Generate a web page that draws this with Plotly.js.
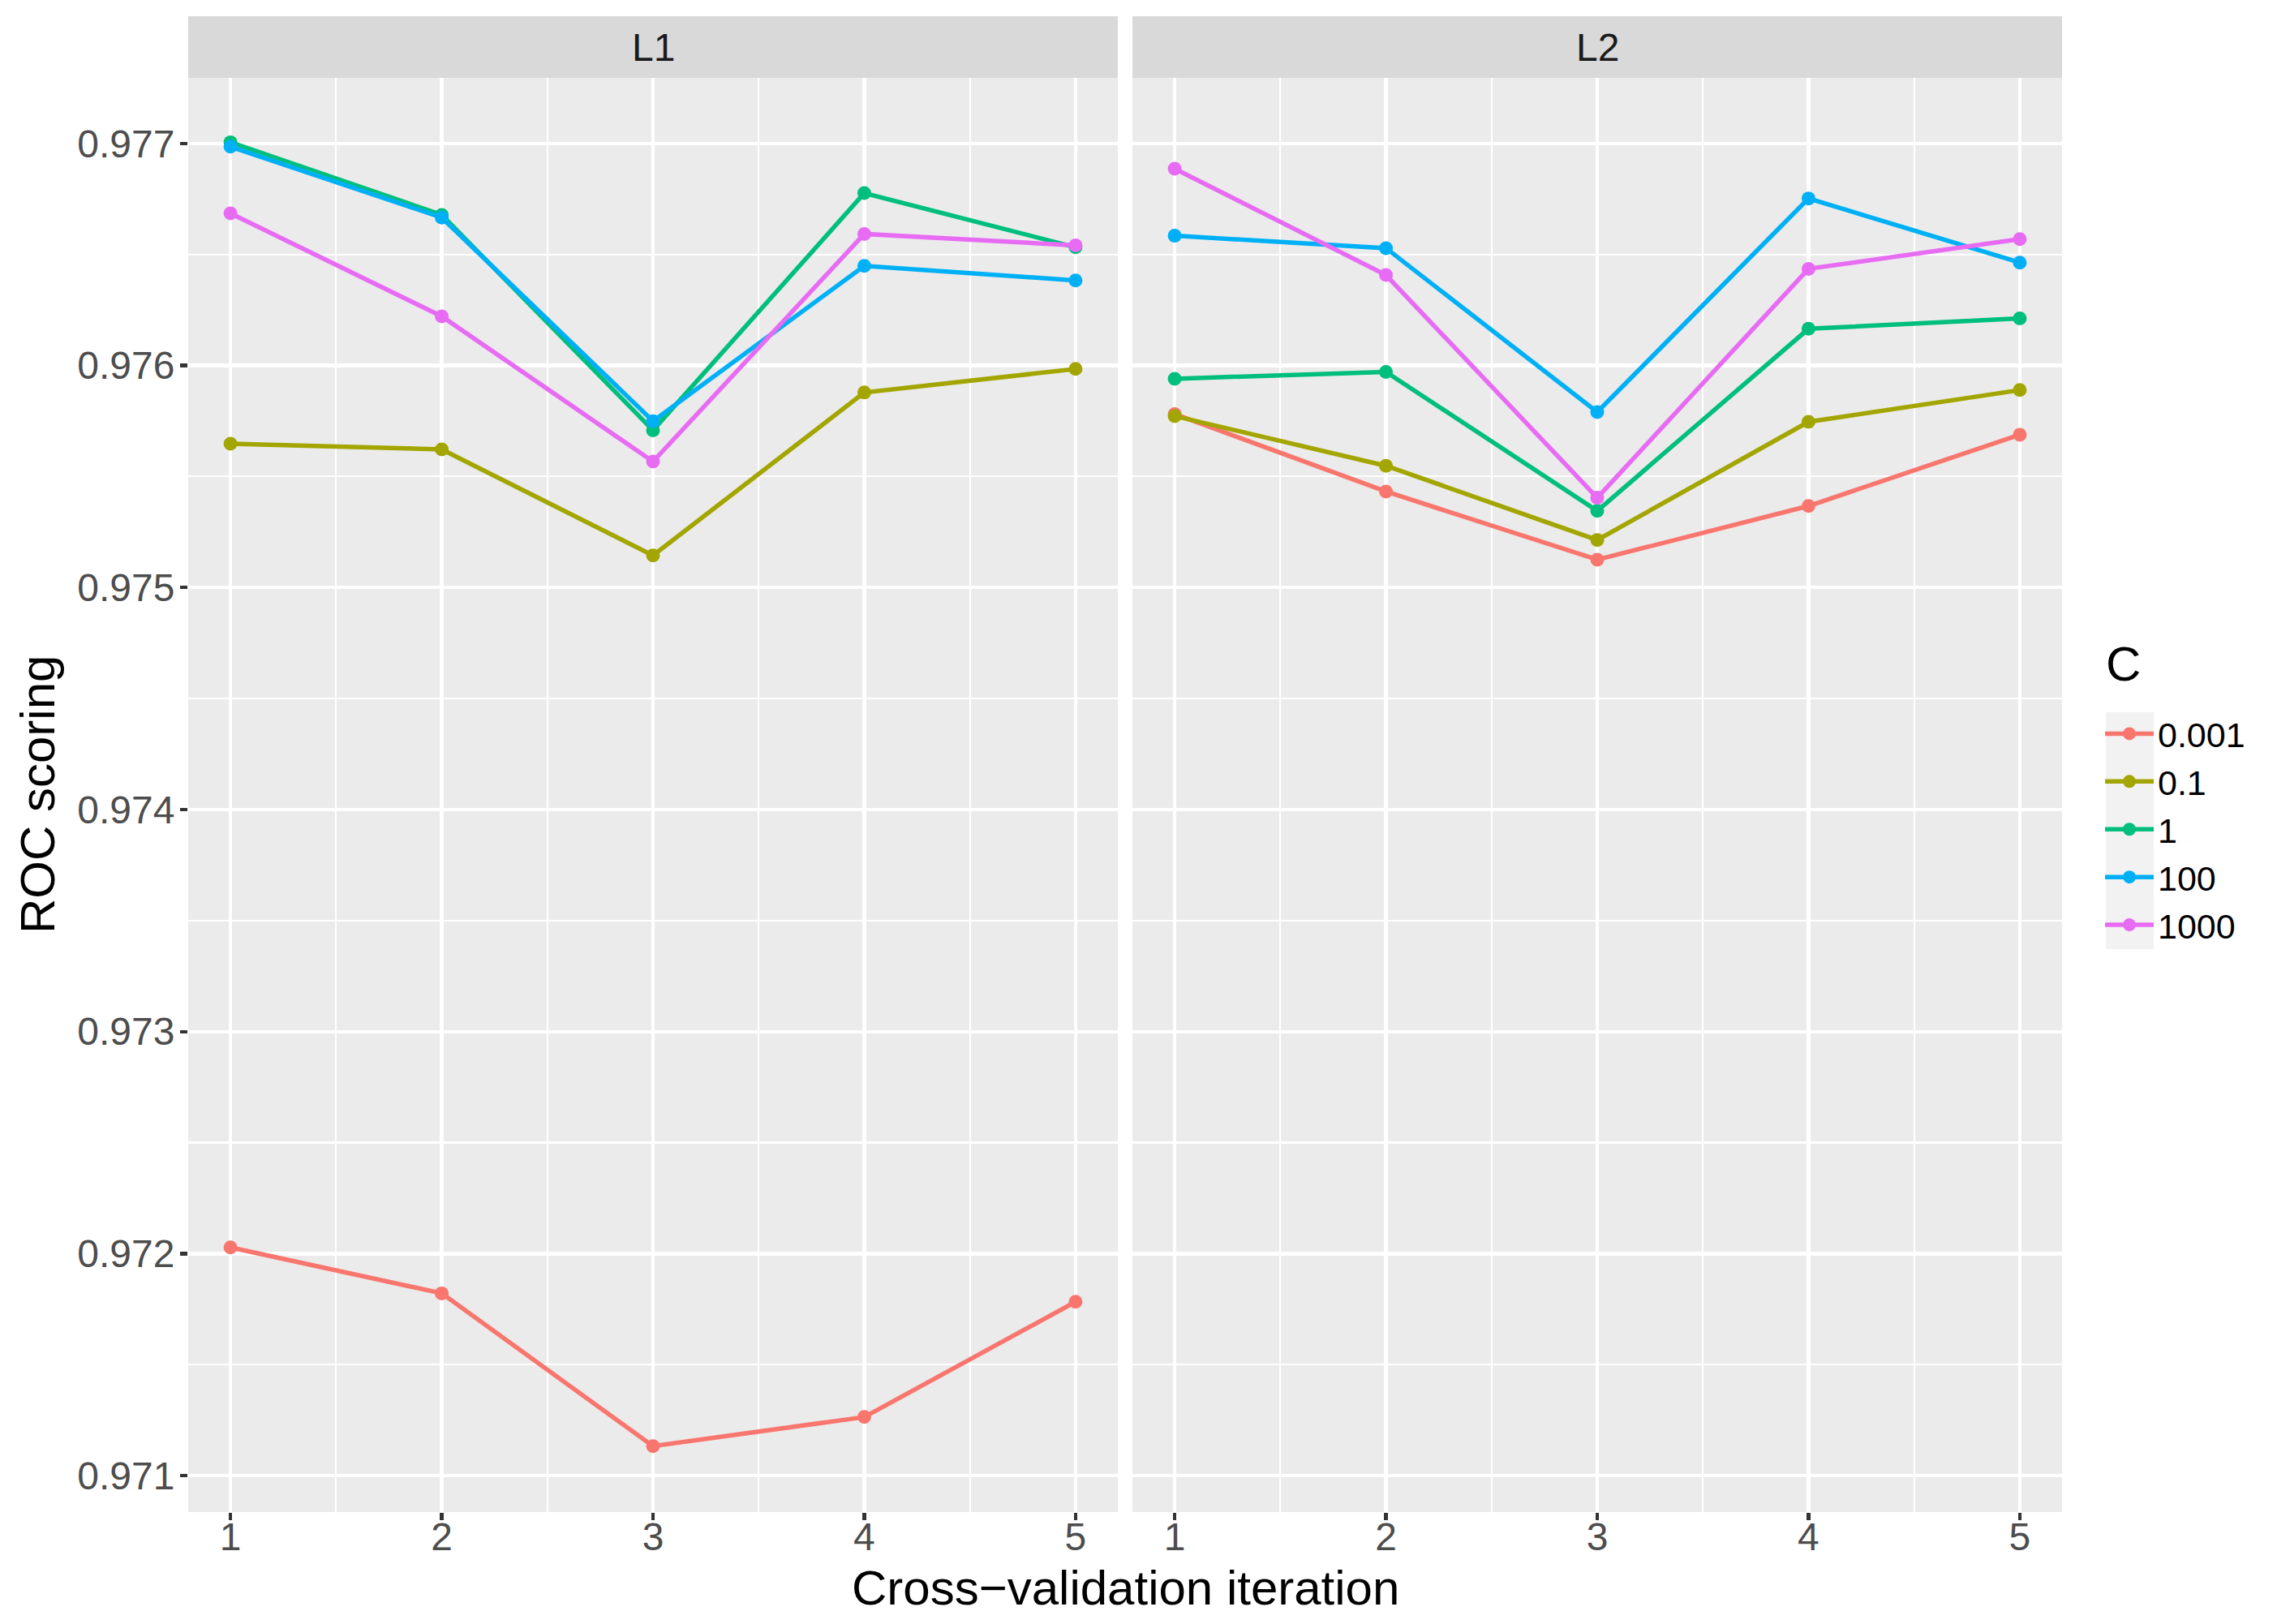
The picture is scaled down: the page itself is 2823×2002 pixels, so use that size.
<!DOCTYPE html>
<html>
<head>
<meta charset="utf-8">
<script src="https://cdn.plot.ly/plotly-3.0.1.min.js"></script>
<style>html,body{margin:0;padding:0;background:#fff;}#chart{width:2823px;height:2002px;}</style>
</head>
<body>
<div id="chart"></div>
<script>
// ---- data ----
const iterations = [1, 2, 3, 4, 5];
const cLevels = ["0.001", "0.1", "1", "100", "1000"];
const penalties = ["L1", "L2"];
const colors = ["#F8766D", "#A3A500", "#00BF7D", "#00B0F6", "#E76BF3"];

// L1 penalty scores per C
const l1_c0001 = [0.972028, 0.971821, 0.971133, 0.971264, 0.971783];
const l1_c01   = [0.975647, 0.975622, 0.975144, 0.975878, 0.975984];
const l1_c1    = [0.977005, 0.976678, 0.975708, 0.976776, 0.976532];
const l1_c100  = [0.976985, 0.976666, 0.975749, 0.976448, 0.976383];
const l1_c1000 = [0.976685, 0.976221, 0.975567, 0.976592, 0.976541];

// L2 penalty scores per C
const l2_c0001 = [0.975781, 0.975432, 0.975125, 0.975367, 0.975688];
const l2_c01   = [0.975772, 0.975548, 0.975214, 0.975746, 0.975889];
const l2_c1    = [0.975940, 0.975971, 0.975345, 0.976165, 0.976212];
const l2_c100  = [0.976584, 0.976528, 0.975790, 0.976752, 0.976463];
const l2_c1000 = [0.976886, 0.976407, 0.975404, 0.976435, 0.976569];

const yTickVals = [0.971, 0.972, 0.973, 0.974, 0.975, 0.976, 0.977];
const yTickText = ["0.971", "0.972", "0.973", "0.974", "0.975", "0.976", "0.977"];

const seriesL1 = [l1_c0001, l1_c01, l1_c1, l1_c100, l1_c1000];
const seriesL2 = [l2_c0001, l2_c01, l2_c1, l2_c100, l2_c1000];

// ---- geometry (pixels) ----
const W = 2823, H = 2002;
const px = v => v / W;
const py = v => (H - v) / H;

const traces = [];
[seriesL1, seriesL2].forEach((set, p) => {
  set.forEach((vals, i) => {
    traces.push({
      type: "scatter", mode: "lines+markers",
      x: iterations, y: vals,
      xaxis: p === 0 ? "x" : "x2", yaxis: p === 0 ? "y" : "y2",
      name: cLevels[i], legendgroup: cLevels[i], showlegend: p === 0,
      line: {color: colors[i], width: 5.5},
      marker: {color: colors[i], size: 17},
      hoverinfo: "x+y+name"
    });
  });
});

const font = "Liberation Sans, Arial, sans-serif";
const xaxisBase = {
  range: [0.8, 5.2], tickvals: iterations, ticktext: iterations.map(String),
  showgrid: true, gridcolor: "#FFFFFF", gridwidth: 4.3,
  minor: {dtick: 0.5, tick0: 0.5, showgrid: true, gridcolor: "#FFFFFF", gridwidth: 2.2, ticks: ""},
  ticks: "outside", ticklen: 9, tickwidth: 4.3, tickcolor: "#333333",
  tickfont: {family: font, size: 48, color: "#4D4D4D"},
  ticklabelstandoff: -21,
  zeroline: false, showline: false, anchor: "y", fixedrange: true
};
const yRange = [0.970836, 0.977295];
const yaxisBase = {
  range: yRange, tickvals: yTickVals, ticktext: yTickText,
  showgrid: true, gridcolor: "#FFFFFF", gridwidth: 4.3,
  minor: {dtick: 0.0005, tick0: 0.9705, showgrid: true, gridcolor: "#FFFFFF", gridwidth: 2.2, ticks: ""},
  ticks: "outside", ticklen: 9, tickwidth: 4.3, tickcolor: "#333333",
  tickfont: {family: font, size: 48, color: "#4D4D4D"},
  ticklabelstandoff: -3,
  zeroline: false, showline: false, domain: [py(1864), py(96)], fixedrange: true
};

const layout = {
  width: W, height: H,
  margin: {l: 0, r: 0, t: 0, b: 0},
  paper_bgcolor: "#FFFFFF", plot_bgcolor: "#EBEBEB",
  font: {family: font, color: "#000000"},
  xaxis: Object.assign({}, xaxisBase, {domain: [px(232), px(1378)], anchor: "y"}),
  xaxis2: Object.assign({}, xaxisBase, {domain: [px(1396), px(2542)], anchor: "y2"}),
  yaxis: Object.assign({}, yaxisBase, {anchor: "x"}),
  yaxis2: Object.assign({}, yaxisBase, {anchor: "x2", matches: "y", showticklabels: false, ticks: ""}),
  shapes: [
    {type: "rect", xref: "paper", yref: "paper", x0: px(232), x1: px(1378), y0: py(96), y1: py(20), fillcolor: "#D9D9D9", line: {width: 0}, layer: "below"},
    {type: "rect", xref: "paper", yref: "paper", x0: px(1396), x1: px(2542), y0: py(96), y1: py(20), fillcolor: "#D9D9D9", line: {width: 0}, layer: "below"},
    {type: "rect", xref: "paper", yref: "paper", x0: px(2596), x1: px(2655), y0: py(1170), y1: py(878), fillcolor: "#F2F2F2", line: {width: 0}, layer: "below"}
  ],
  annotations: [
    {text: penalties[0], xref: "paper", yref: "paper", x: px(805), y: py(58), xanchor: "center", yanchor: "middle", showarrow: false, font: {family: font, size: 48, color: "#1A1A1A"}},
    {text: penalties[1], xref: "paper", yref: "paper", x: px(1969), y: py(58), xanchor: "center", yanchor: "middle", showarrow: false, font: {family: font, size: 48, color: "#1A1A1A"}},
    {text: "Cross\u2212validation iteration", xref: "paper", yref: "paper", x: px(1387), y: py(1957), xanchor: "center", yanchor: "middle", showarrow: false, font: {family: font, size: 60, color: "#000000"}},
    {text: "ROC scoring", xref: "paper", yref: "paper", x: px(47), y: py(980), xanchor: "center", yanchor: "middle", textangle: -90, showarrow: false, font: {family: font, size: 60, color: "#000000"}},
    {text: "C", xref: "paper", yref: "paper", x: px(2594), y: py(818), xanchor: "left", yanchor: "middle", showarrow: false, font: {family: font, size: 60, color: "#000000"}}
  ],
  legend: {
    x: px(2590), y: py(870), xanchor: "left", yanchor: "top",
    bgcolor: "rgba(0,0,0,0)", borderwidth: 0,
    font: {family: font, size: 43, color: "#000000"},
    itemwidth: 60, tracegroupgap: 0
  },
  showlegend: true
};

Plotly.newPlot("chart", traces, layout, {staticPlot: true, displayModeBar: false});
</script>
</body>
</html>
